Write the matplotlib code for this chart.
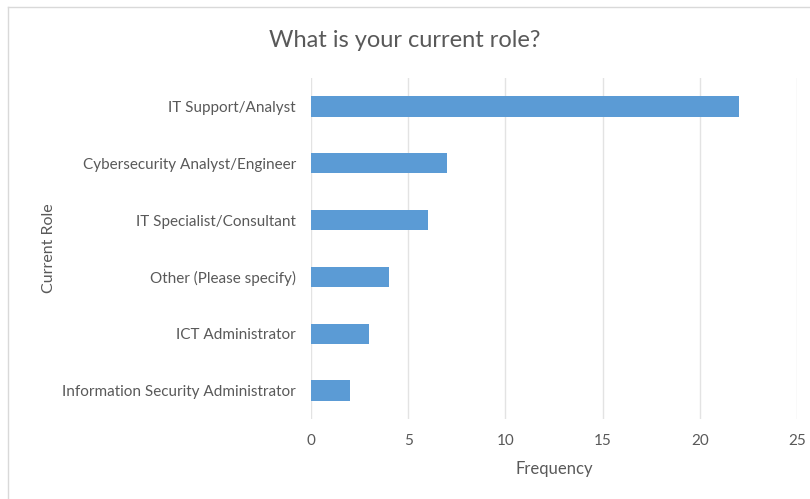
import matplotlib
matplotlib.use("Agg")
import matplotlib.pyplot as plt
from matplotlib.lines import Line2D

roles = [
    "IT Support/Analyst",
    "Cybersecurity Analyst/Engineer",
    "IT Specialist/Consultant",
    "Other (Please specify)",
    "ICT Administrator",
    "Information Security Administrator",
]
counts = [22, 7, 6, 4, 3, 2]
x_ticks = [0, 5, 10, 15, 20, 25]

text_color = "#595959"
bar_color = "#5B9BD5"
grid_color = "#E3E3E3"

plt.rcParams["font.family"] = ["Lato", "DejaVu Sans"]

fig = plt.figure(figsize=(8.10, 4.99), dpi=100)
ax = fig.add_axes([0.384, 0.160, 0.600, 0.684])

ypos = list(range(len(roles)))[::-1]
ax.barh(ypos, counts, height=0.36, color=bar_color, zorder=3)

ax.set_xlim(0, 25)
ax.set_ylim(-0.5, len(roles) - 0.5)
ax.set_xticks(x_ticks)
ax.set_xticklabels([str(t) for t in x_ticks])
ax.set_yticks(ypos)
ax.set_yticklabels(roles)

ax.grid(axis="x", color=grid_color, linewidth=1, zorder=0)
for s in ax.spines.values():
    s.set_visible(False)
ax.tick_params(axis="both", length=0, colors=text_color, labelsize=11)
ax.tick_params(axis="x", pad=11)
ax.tick_params(axis="y", pad=11)

ax.set_xlabel("Frequency", color=text_color, fontsize=12, labelpad=9)
ax.set_ylabel("Current Role", color=text_color, fontsize=11.5, labelpad=4)
fig.text(0.5, 0.918, "What is your current role?", ha="center", va="center",
         color=text_color, fontsize=17)

# chart area frame (top and left edges)
fig.add_artist(Line2D([8 / 810, 1.0], [1 - 7 / 499, 1 - 7 / 499],
                      transform=fig.transFigure, color="#D9D9D9", linewidth=1))
fig.add_artist(Line2D([8 / 810, 8 / 810], [0.0, 1 - 7 / 499],
                      transform=fig.transFigure, color="#D9D9D9", linewidth=1))

fig.savefig("out.png", dpi=100)
